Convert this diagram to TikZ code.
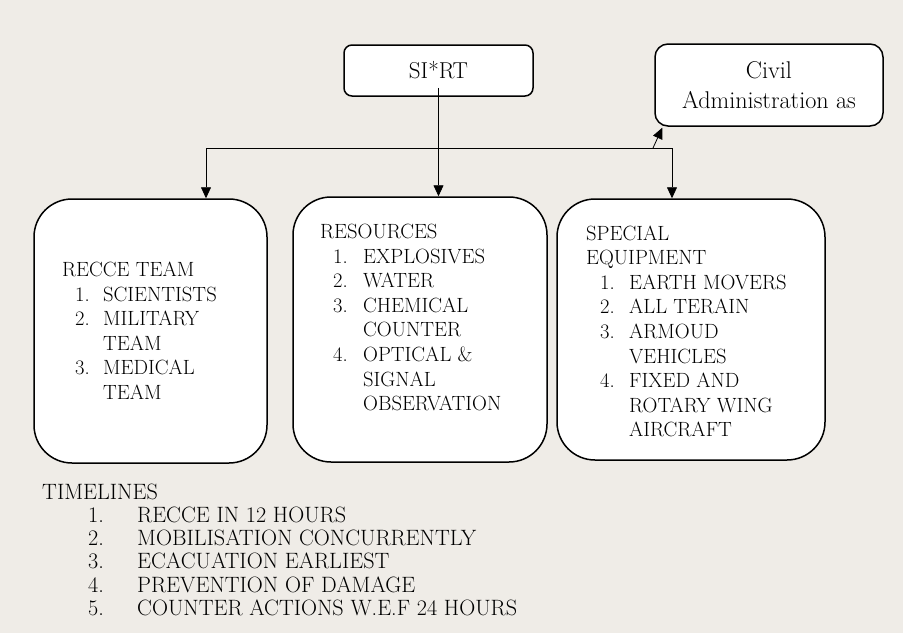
\documentclass[tikz,border=0pt]{standalone}
\usetikzlibrary{arrows.meta,calc}
\definecolor{bgc}{HTML}{EFECE7}
\newcommand\mynum[4]{\hspace*{#1}\makebox[#2][l]{#3}#4}
\begin{document}
\begin{tikzpicture}[x=1pt,y=-1pt,
  box/.style={draw=black, line width=1.5pt, fill=white, inner sep=0pt},
  conn/.style={line width=0.8pt, -{Triangle[length=11pt,width=10pt]}},
  plain/.style={line width=0.8pt},
  txt/.style={inner sep=0pt, anchor=base west, font=\fontsize{20.6}{24.6}\selectfont},
  tltxt/.style={inner sep=0pt, anchor=base west, font=\fontsize{22.2}{23.3}\selectfont}
]
\fill[bgc] (0,0) rectangle (903,633);
\useasboundingbox (0,0) rectangle (903,633);

\node[box, rounded corners=8pt, minimum width=189pt, minimum height=51pt, font=\fontsize{23}{27}\selectfont] (sirt) at (438.5,70.5) {SI*RT};
\node[box, rounded corners=13pt, minimum width=228pt, minimum height=82pt, align=center, font=\fontsize{24.2}{30}\selectfont] (civil) at (769,85) {Civil\\Administration as};

\node[box, rounded corners=38pt, minimum width=233pt, minimum height=264pt] (recce) at (150.5,331) {};
\node[box, rounded corners=38pt, minimum width=254pt, minimum height=265pt] (res) at (420,329.5) {};
\node[box, rounded corners=38pt, minimum width=268pt, minimum height=261pt] (spec) at (691,329.5) {};

\node[txt] (recceT) at (62,276.5) {\begin{tabular}[t]{@{}l@{}}
RECCE TEAM\\
\mynum{13pt}{28pt}{1.}{SCIENTISTS}\\
\mynum{13pt}{28pt}{2.}{MILITARY}\\
\hspace*{41pt}TEAM\\
\mynum{13pt}{28pt}{3.}{MEDICAL}\\
\hspace*{41pt}TEAM
\end{tabular}};

\node[txt] (resT) at (320,238.5) {\begin{tabular}[t]{@{}l@{}}
RESOURCES\\
\mynum{13pt}{30pt}{1.}{EXPLOSIVES}\\
\mynum{13pt}{30pt}{2.}{WATER}\\
\mynum{13pt}{30pt}{3.}{CHEMICAL}\\
\hspace*{43pt}COUNTER\\
\mynum{13pt}{30pt}{4.}{OPTICAL \&}\\
\hspace*{43pt}SIGNAL\\
\hspace*{43pt}OBSERVATION
\end{tabular}};

\node[txt] (specT) at (586,240) {\begin{tabular}[t]{@{}l@{}}
SPECIAL\\
EQUIPMENT\\
\mynum{14pt}{29pt}{1.}{EARTH MOVERS}\\
\mynum{14pt}{29pt}{2.}{ALL TERAIN}\\
\mynum{14pt}{29pt}{3.}{ARMOUD}\\
\hspace*{43pt}VEHICLES\\
\mynum{14pt}{29pt}{4.}{FIXED AND}\\
\hspace*{43pt}ROTARY WING\\
\hspace*{43pt}AIRCRAFT
\end{tabular}};

\node[tltxt] (timeT) at (42,499) {\begin{tabular}[t]{@{}l@{}}
TIMELINES\\
\mynum{46pt}{49pt}{1.}{RECCE IN 12 HOURS}\\
\mynum{46pt}{49pt}{2.}{MOBILISATION CONCURRENTLY}\\
\mynum{46pt}{49pt}{3.}{ECACUATION EARLIEST}\\
\mynum{46pt}{49pt}{4.}{PREVENTION OF DAMAGE}\\
\mynum{46pt}{49pt}{5.}{COUNTER ACTIONS W.E.F 24 HOURS}
\end{tabular}};

\coordinate (jl) at (206,148);
\coordinate (jr) at (672,148);
\coordinate (jc) at (653,148);
\draw[plain] (jl) -- (jr);
\draw[conn] ([yshift=9pt]sirt.south) -- (sirt.south |- res.north);
\draw[conn] (jl) -- (jl |- recce.north);
\draw[conn] (jr) -- (jr |- spec.north);
\draw[conn] (jc) -- ($(civil.south west)+(8,1)$);
\end{tikzpicture}
\end{document}
